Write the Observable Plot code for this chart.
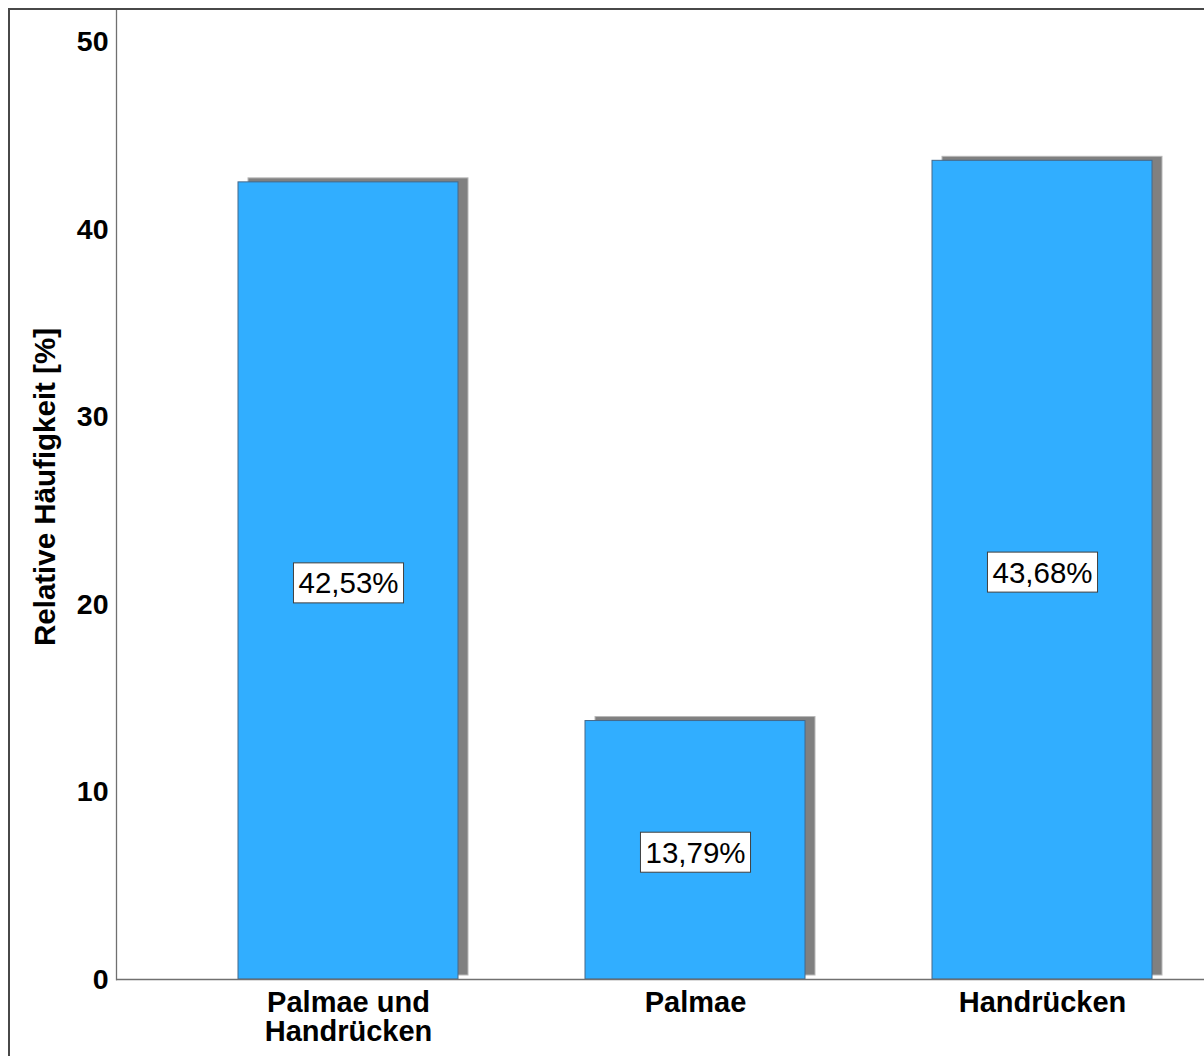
<!DOCTYPE html>
<html>
<head>
<meta charset="utf-8">
<script src="https://cdn.jsdelivr.net/npm/d3@7"></script>
<script src="https://cdn.jsdelivr.net/npm/@observablehq/plot@0.6"></script>
<style>
  body { margin: 0; background: #fff; }
  #wrap { position: relative; width: 1204px; height: 1056px; overflow: hidden; background: #fff; }
  #wrap svg { position: absolute; left: 0; top: 0; }
  #border {
    position: absolute; left: 8px; top: 8px; width: 3000px; height: 3000px;
    border-left: 2px solid #484848; border-top: 2px solid #484848; pointer-events: none;
  }
</style>
</head>
<body>
<div id="wrap"><div id="border"></div></div>
<script>
// Lokalisation der Läsionen an der Hand (relative Häufigkeit in %)
const categories = ["Palmae und Handrücken", "Palmae", "Handrücken"];
const percentages = [42.53, 13.79, 43.68];
const yTicks = [0, 10, 20, 30, 40, 50];
const yTitle = "Relative Häufigkeit [%]";

const data = categories.map((category, i) => ({category, value: percentages[i]}));

// German number format: 42,53%
const formatPercent = v => v.toFixed(2).replace(".", ",") + "%";

const font = "'Liberation Sans', Arial, Helvetica, sans-serif";

const chart = Plot.plot({
  width: 1204,
  height: 1056,
  marginLeft: 116,
  marginRight: 0,
  marginTop: 10,
  marginBottom: 77,
  style: {fontFamily: font, fontSize: "28px", color: "#000", background: "transparent"},
  x: {domain: categories, range: [173, 1216], paddingInner: 0.367, paddingOuter: 0.1835, align: 0.5, label: null},
  y: {domain: [0, 51.7], label: null},
  marks: [
    // drop shadow behind each bar
    Plot.barY(data, {x: "category", y: "value", fill: "#808080", stroke: "#b8b8b8", strokeWidth: 1, dx: 10, dy: -4}),
    Plot.barY(data, {x: "category", y: "value", fill: "#31aeff", stroke: "#45698a", strokeWidth: 1}),
    Plot.ruleY([0], {stroke: "#707070", strokeWidth: 1.3}),
    Plot.frame({anchor: "left", stroke: "#707070", strokeWidth: 1.3}),
    Plot.axisY(yTicks, {tickSize: 0, tickPadding: 8, fontWeight: "bold", fontSize: 28.5, label: null}),
    Plot.axisX({
      tickSize: 0, tickPadding: 12, fontWeight: "bold", fontSize: 29, lineHeight: 1.0,
      tickFormat: d => d.replace(" und ", " und\n"), label: null
    }),
    Plot.text(data, {
      x: "category", y: d => d.value / 2, text: d => formatPercent(d.value),
      fontSize: 29.5, fill: "#000", dy: 3
    }),
    Plot.text([yTitle], {
      text: d => d, frameAnchor: "left", textAnchor: "middle", rotate: -90, dx: -71, dy: -8,
      fontWeight: "bold", fontSize: 29.5, fill: "#000"
    })
  ]
});

const wrap = document.getElementById("wrap");
wrap.insertBefore(chart, document.getElementById("border"));

// white boxes with a thin outline behind the value labels
d3.select(chart).selectAll("text")
  .filter(function() { return /^\d+,\d+%$/.test(this.textContent); })
  .each(function() {
    const b = this.getBBox();
    const rect = document.createElementNS("http://www.w3.org/2000/svg", "rect");
    rect.setAttribute("x", b.x - 5);
    rect.setAttribute("y", b.y + b.height / 2 - 20);
    rect.setAttribute("width", b.width + 10);
    rect.setAttribute("height", 40);
    rect.setAttribute("fill", "#fff");
    rect.setAttribute("stroke", "#404040");
    rect.setAttribute("stroke-width", 1);
    const t = this.getAttribute("transform");
    if (t) rect.setAttribute("transform", t);
    this.parentNode.insertBefore(rect, this);
  });
</script>
</body>
</html>
